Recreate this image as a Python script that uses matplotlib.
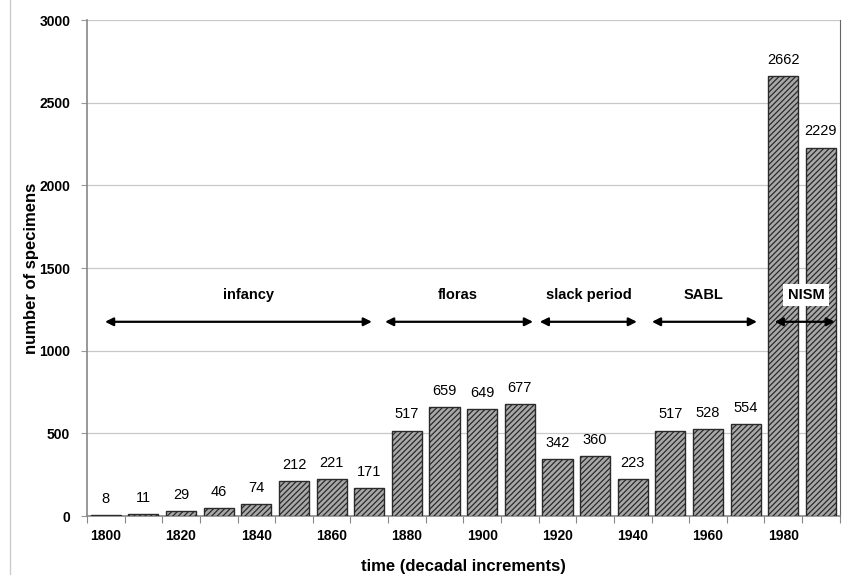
import matplotlib.pyplot as plt
import numpy as np

plt.rcParams['font.family'] = ['Liberation Sans', 'DejaVu Sans']
plt.rcParams['hatch.color'] = '#666666'
plt.rcParams['hatch.linewidth'] = 0.9

decades = [1800, 1810, 1820, 1830, 1840, 1850, 1860, 1870, 1880, 1890,
           1900, 1910, 1920, 1930, 1940, 1950, 1960, 1970, 1980, 1990]
specimens = [8, 11, 29, 46, 74, 212, 221, 171, 517, 659,
             649, 677, 342, 360, 223, 517, 528, 554, 2662, 2229]

periods = ["infancy", "floras", "slack period", "SABL", "NISM"]
period_start = [-0.02, 7.42, 11.53, 14.51, 17.77]
period_end = [7.07, 11.35, 14.11, 17.30, 19.37]
period_label_x = [3.8, 9.35, 12.83, 15.89, 18.6]

fig = plt.figure(figsize=(8.44, 5.75), dpi=100)
ax = fig.add_axes([0.103, 0.1026, 0.892, 0.8624])

x = np.arange(len(specimens))
ax.bar(x, specimens, width=0.8, facecolor='#a8a8a8', edgecolor='#2a2a2a',
       linewidth=1.0, hatch='//////', zorder=3)

for xi, v in zip(x, specimens):
    ax.text(xi, v + 55, str(v), ha='center', va='bottom', fontsize=10.5, zorder=4)

arrow_y = 1175
for name, s, e, lx in zip(periods, period_start, period_end, period_label_x):
    ax.annotate('', xy=(e, arrow_y), xytext=(s, arrow_y),
                arrowprops=dict(arrowstyle='<|-|>', color='black', lw=1.6,
                                mutation_scale=12, shrinkA=0, shrinkB=0),
                zorder=5)
    box = dict(facecolor='white', edgecolor='none', pad=3) if name == "NISM" else None
    ax.text(lx, 1337, name, ha='center', va='center', fontsize=10.5,
            fontweight='bold', zorder=6, bbox=box)

ax.set_xlim(-0.5, len(specimens) - 0.5)
ax.set_ylim(0, 3000)
ax.set_yticks(np.arange(0, 3001, 500))
ax.yaxis.grid(True, color='#c8c8c8', linewidth=0.9, zorder=0)
ax.tick_params(axis='y', length=4, color='#999999', labelsize=10, pad=8)
for lab in ax.get_yticklabels():
    lab.set_fontweight('bold')

# boundary ticks (major) and labels every other decade (minor)
ax.set_xticks(np.arange(-0.5, len(specimens), 1.0))
ax.set_xticklabels([])
ax.tick_params(axis='x', which='major', length=5, color='#888888', direction='out')
ax.set_xticks(x[::2], minor=True)
ax.set_xticklabels([str(d) for d in decades[::2]], minor=True,
                   fontweight='bold', fontsize=10)
ax.tick_params(axis='x', which='minor', length=0, pad=9)

for sp in ['left', 'bottom']:
    ax.spines[sp].set_color('#888888')
    ax.spines[sp].set_linewidth(1.2)
ax.spines['top'].set_visible(False)
ax.spines['right'].set_color('#666666')

ax.set_ylabel('number of specimens', fontsize=12, fontweight='bold', labelpad=0)
ax.set_xlabel('time (decadal increments)', fontsize=12, fontweight='bold', labelpad=12)

fig.add_artist(plt.Line2D([0.012, 0.012], [0.0, 1.0], color='#cccccc', lw=1))

fig.savefig('out.png', dpi=100)
